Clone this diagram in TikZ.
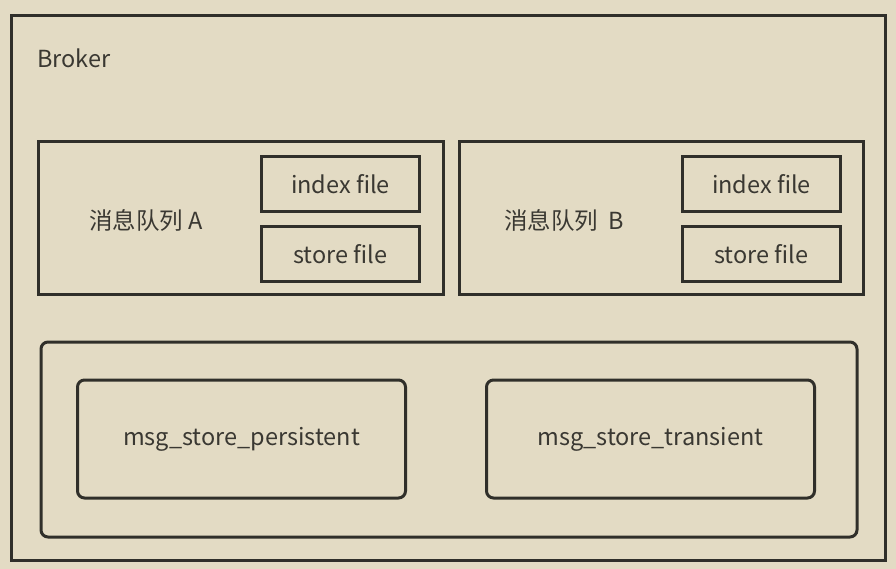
\documentclass[tikz,border=0pt]{standalone}
\usepackage{fontspec}
\setmainfont{Noto Sans CJK SC}
\definecolor{paper}{RGB}{227,219,196}
\definecolor{ink}{RGB}{48,47,42}
\definecolor{textink}{RGB}{58,56,50}
\begin{document}
\begin{tikzpicture}[x=1pt, y=-1pt,
  box/.style={draw=ink, line width=3pt, rectangle, inner sep=0pt},
  filebox/.style={box, minimum width=158pt, minimum height=55pt},
  storebox/.style={box, rounded corners=7pt, minimum width=328pt, minimum height=118pt},
  lbl/.style={text=textink, font=\fontsize{23.5}{26}\selectfont, inner sep=0pt}]
  \fill[paper] (0,0) rectangle (896,569);
  \useasboundingbox (0,0) rectangle (896,569);

  \node[box, minimum width=874pt, minimum height=544pt] (broker) at (448,288) {};
  \node[lbl, anchor=west] (brokerlbl) at (37,58) {Broker};

  \node[box, minimum width=405pt, minimum height=153pt] (qa) at (241,218) {};
  \node[lbl] (qalbl) at (146,221) {消息队列 A};
  \node[filebox, lbl] (idxa) at (340.5,184) {index file};
  \node[filebox, lbl] (sta) at (340.5,254) {store file};

  \node[box, minimum width=404pt, minimum height=153pt] (qb) at (661.5,218) {};
  \node[lbl] (qblbl) at (564,221) {消息队列\ \ B};
  \node[filebox, lbl] (idxb) at (761.5,184) {index file};
  \node[filebox, lbl] (stb) at (761.5,254) {store file};

  \node[box, rounded corners=7pt, minimum width=816pt, minimum height=195pt] (store) at (449,439.5) {};
  \node[storebox, lbl] (persist) at (241.5,439) {msg\_store\_persistent};
  \node[storebox, lbl] (trans) at (650.5,439) {msg\_store\_transient};
\end{tikzpicture}
\end{document}
